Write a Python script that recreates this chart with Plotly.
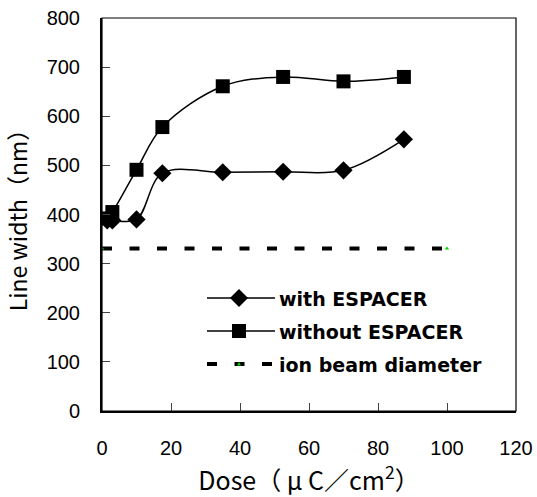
import plotly.graph_objects as go

dose = [1.5, 3, 10, 17.5, 35, 52.5, 70, 87.5]
with_espacer = [388, 388, 390, 484, 486, 487, 490, 553]
without_espacer = [392, 405, 491, 578, 661, 680, 671, 680]
beam_x = [0, 100]
beam_y = [331, 331]

series_names = ["with ESPACER", "without ESPACER", "ion beam diameter"]
x_ticks = [0, 20, 40, 60, 80, 100, 120]
y_ticks = [0, 100, 200, 300, 400, 500, 600, 700, 800]

tick_font = dict(family="Liberation Sans, Arial, sans-serif", size=20, color="black")
title_font = dict(family="Noto Sans CJK JP, Liberation Sans, sans-serif", size=23, color="black")
legend_font = dict(family="DejaVu Sans, sans-serif", size=19, color="black", weight="bold")

# figure geometry (page pixels)
W, H = 537, 497
ML, MR, MT, MB = 102, 21, 18, 86
PW = W - ML - MR
PH = H - MT - MB


def px(xp):
    return (xp - ML) / PW


def py(yp):
    return 1 - (yp - MT) / PH


fig = go.Figure()
fig.add_trace(go.Scatter(
    x=dose, y=with_espacer, name=series_names[0], showlegend=False,
    mode="lines+markers", line=dict(shape="spline", color="black", width=1.5),
    marker=dict(symbol="diamond", size=14, color="black")))
fig.add_trace(go.Scatter(
    x=dose, y=without_espacer, name=series_names[1], showlegend=False,
    mode="lines+markers", line=dict(shape="spline", color="black", width=1.5),
    marker=dict(symbol="square", size=14, color="black")))
fig.add_trace(go.Scatter(
    x=beam_x, y=beam_y, name=series_names[2], showlegend=False,
    mode="lines+markers", line=dict(color="black", width=4, dash="10px,17.5px"),
    marker=dict(symbol="triangle-up", size=4, color="#00dd00")))

# custom legend (pixel positions converted to paper)
leg_x0, leg_x1, leg_mid, leg_text = 207, 275, 239, 277
leg_rows = [298, 331, 364]
shapes = []
annotations = []
for i, (name, yrow) in enumerate(zip(series_names, leg_rows)):
    if i < 2:
        shapes.append(dict(type="line", xref="paper", yref="paper",
                           x0=px(leg_x0), x1=px(leg_x1), y0=py(yrow), y1=py(yrow),
                           line=dict(color="black", width=1.5)))
    else:
        shapes.append(dict(type="line", xref="paper", yref="paper",
                           x0=px(leg_x0), x1=px(leg_x1 - 3), y0=py(yrow), y1=py(yrow),
                           line=dict(color="black", width=4, dash="10px,17.5px")))
    if i == 0:
        shapes.append(dict(type="path", xref="paper", yref="paper",
                           xsizemode="pixel", ysizemode="pixel",
                           xanchor=px(leg_mid), yanchor=py(yrow),
                           path="M -9 0 L 0 9 L 9 0 L 0 -9 Z",
                           fillcolor="black", line=dict(width=0)))
    elif i == 1:
        shapes.append(dict(type="rect", xref="paper", yref="paper",
                           xsizemode="pixel", ysizemode="pixel",
                           xanchor=px(leg_mid), yanchor=py(yrow),
                           x0=-7, x1=7, y0=-7, y1=7,
                           fillcolor="black", line=dict(width=0)))
    else:
        shapes.append(dict(type="path", xref="paper", yref="paper",
                           xsizemode="pixel", ysizemode="pixel",
                           xanchor=px(leg_mid), yanchor=py(yrow),
                           path="M -2 -1.5 L 2 -1.5 L 0 2 Z",
                           fillcolor="#00dd00", line=dict(width=0)))
    annotations.append(dict(text=name, xref="paper", yref="paper",
                            x=px(leg_text), y=py(yrow + 1), xanchor="left", yanchor="middle",
                            showarrow=False, font=legend_font))

shapes.append(dict(type="rect", xref="paper", yref="paper", x0=0, y0=0, x1=1, y1=1,
                   line=dict(color="black", width=1.2), layer="above"))

fig.update_layout(
    width=W, height=H,
    margin=dict(l=ML, r=MR, t=MT, b=MB),
    paper_bgcolor="white", plot_bgcolor="white",
    showlegend=False,
    shapes=shapes, annotations=annotations,
    xaxis=dict(
        range=[0, 120], tickvals=x_ticks, ticks="inside", ticklen=8, tickwidth=1, tickcolor="#444",
        showline=True, linecolor="black", linewidth=2, showgrid=False, zeroline=False,
        tickfont=tick_font, ticklabelstandoff=18, ticklabeloverflow="allow", automargin=False,
        title=dict(text="Dose（ μ C／cm<sup>2</sup>）", font=dict(title_font, size=25), standoff=6),
    ),
    yaxis=dict(
        range=[0, 800], tickvals=y_ticks, ticks="inside", ticklen=8, tickwidth=1, tickcolor="#444",
        showline=True, linecolor="black", linewidth=2, showgrid=False, zeroline=False,
        tickfont=tick_font, ticklabelstandoff=16, ticklabeloverflow="allow", automargin=False,
        title=dict(text="Line width（nm）", font=title_font, standoff=16),
    ),
)

fig.write_html("out.html", config={"displayModeBar": False},
               post_script="document.body.style.margin='0';document.body.style.overflow='hidden';")
